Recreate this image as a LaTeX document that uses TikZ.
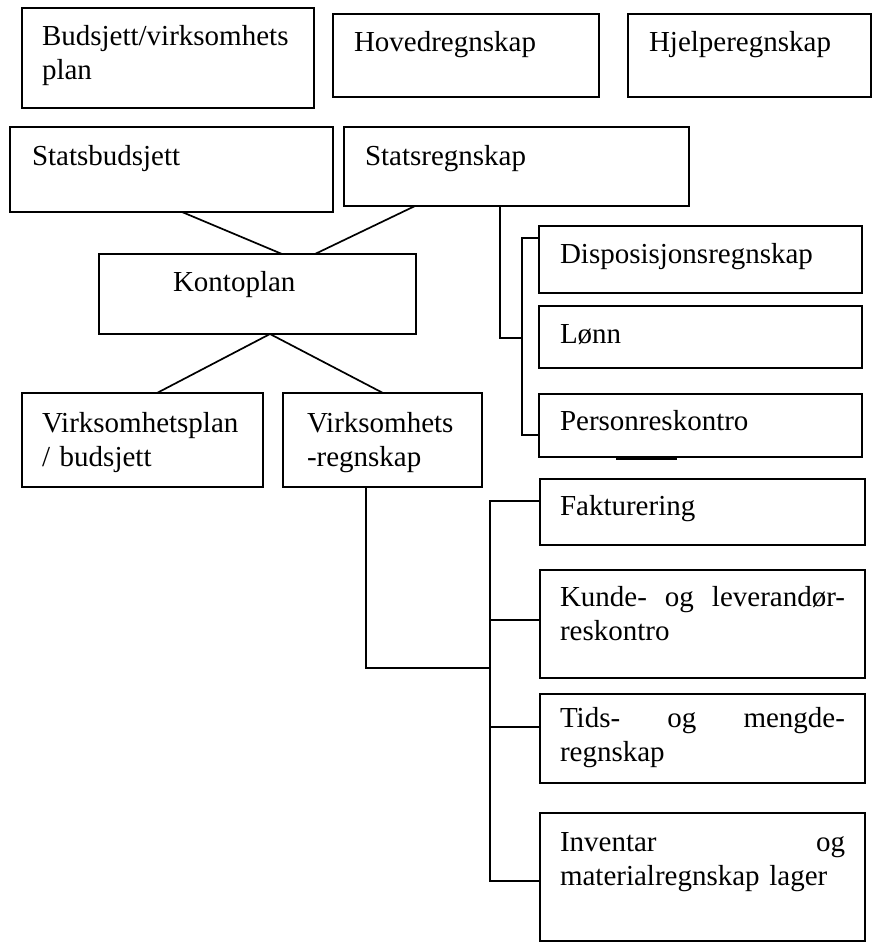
\documentclass[tikz,border=0pt]{standalone}
\usepackage{fontspec}
\setmainfont{Liberation Serif}
\begin{document}
\begin{tikzpicture}[x=1pt,y=-1pt,
  box/.style={draw, line width=1.7pt, inner sep=0pt, outer sep=0pt, anchor=north west},
  lbl/.style={anchor=base west, inner sep=0pt, outer sep=0pt, font=\fontsize{29}{34}\selectfont},
  wire/.style={line width=1.7pt}]
\useasboundingbox (0,0) rectangle (873,944);

% header row
\node[box, minimum width=292pt, minimum height=100pt] (bud) at (22,8) {};
\node[box, minimum width=266pt, minimum height=83pt] (hoved) at (333,14) {};
\node[box, minimum width=243pt, minimum height=83pt] (hjelpe) at (628,14) {};
\node[lbl, text width=265pt, align=left] (budT) at (42,46) {Budsjett/virksomhets\\plan};
\node[lbl] (hovedT) at (354,52) {Hovedregnskap};
\node[lbl] (hjelpeT) at (649,52) {Hjelperegnskap};

% state level
\node[box, minimum width=323pt, minimum height=85pt] (sbud) at (10,127) {};
\node[box, minimum width=345pt, minimum height=79pt] (sregn) at (344,127) {};
\node[lbl] (sbudT) at (32,165) {Statsbudsjett};
\node[lbl] (sregnT) at (365,165) {Statsregnskap};

% chart of accounts
\node[box, minimum width=317pt, minimum height=80pt] (konto) at (99,254) {};
\node[lbl] (kontoT) at (173,291) {Kontoplan};

% agency level
\node[box, minimum width=241pt, minimum height=94pt] (vplan) at (22,393) {};
\node[box, minimum width=199pt, minimum height=94pt] (vregn) at (283,393) {};
\node[lbl, text width=230pt, align=left] (vplanT) at (42,432) {Virksomhetsplan\\/ budsjett};
\node[lbl, text width=170pt, align=left] (vregnT) at (307,432) {Virksomhets\\-regnskap};

% sub-ledgers of the state accounts
\node[box, minimum width=323pt, minimum height=67pt] (disp) at (539,226) {};
\node[box, minimum width=323pt, minimum height=62pt] (lonn) at (539,306) {};
\node[box, minimum width=323pt, minimum height=63pt] (pers) at (539,394) {};
\node[lbl] (dispT) at (560,263) {Disposisjonsregnskap};
\node[lbl] (lonnT) at (560,343) {Lønn};
\node[lbl] (persT) at (560,430) {Personreskontro};

% sub-ledgers of the agency accounts
\node[box, minimum width=325pt, minimum height=66pt] (fakt) at (540,479) {};
\node[box, minimum width=325pt, minimum height=108pt] (kunde) at (540,570) {};
\node[box, minimum width=325pt, minimum height=89pt] (tids) at (540,694) {};
\node[box, minimum width=325pt, minimum height=128pt] (inv) at (540,813) {};
\node[lbl] (faktT) at (560,515) {Fakturering};
\node[lbl, text width=285pt, align=left] (kundeT) at (560,606) {Kunde-\hfill og\hfill leverandør-\\reskontro};
\node[lbl, text width=285pt, align=left] (tidsT) at (560,727) {Tids-\hfill og\hfill mengde-\\regnskap};
\node[lbl, text width=285pt, align=left] (invT) at (560,851) {Inventar\hfill og\\materialregnskap lager};

% diagonal links around the chart of accounts
\draw[wire] ([xshift=172pt]sbud.south west) -- ([xshift=183pt]konto.north west);
\draw[wire] ([xshift=71pt]sregn.south west) -- ([xshift=216pt]konto.north west);
\draw[wire] ([xshift=171pt]konto.south west) -- ([xshift=135pt]vplan.north west);
\draw[wire] ([xshift=171pt]konto.south west) -- ([xshift=100pt]vregn.north west);

% bracket from the state accounts
\coordinate (sjoin) at (522,338);
\draw[wire] ([xshift=156pt]sregn.south west) |- (sjoin);
\draw[wire] ([yshift=-12pt]disp.north west) -- ++(-17pt,0) |- ([yshift=-41pt]pers.north west);
\draw[wire] ([xshift=77pt,yshift=-2pt]pers.south west) -- ++(61pt,0);

% bracket from the agency accounts
\coordinate (vjoin) at (490,668);
\draw[wire] ([xshift=83pt]vregn.south west) |- (vjoin);
\draw[wire] ([yshift=-22pt]fakt.north west) -- ++(-50pt,0) |- ([yshift=-68pt]inv.north west);
\draw[wire] ([yshift=-50pt]kunde.north west) -- ++(-50pt,0);
\draw[wire] ([yshift=-33pt]tids.north west) -- ++(-50pt,0);
\end{tikzpicture}
\end{document}
